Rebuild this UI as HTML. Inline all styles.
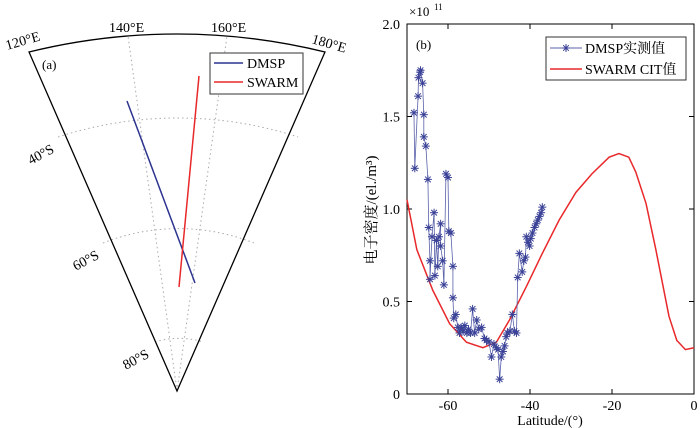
<!DOCTYPE html>
<html><head><meta charset="utf-8"><style>
body{margin:0;background:#fff;}
svg{display:block;font-family:"Liberation Serif","Noto Serif CJK SC",serif;}
</style></head><body>
<svg width="700" height="428" viewBox="0 0 700 428">
<g id="map"></g>
<g id="chart"></g>
</svg>
<script>
const NS="http://www.w3.org/2000/svg";
function mk(parent,tag,attrs,text){const e=document.createElementNS(NS,tag);for(const k in attrs)e.setAttribute(k,attrs[k]);if(text!==undefined)e.textContent=text;parent.appendChild(e);return e;}

// ---------- Map panel ----------
const map=document.getElementById('map');
const apexX=177,apexY=391;
// latitude arcs: [leftX,leftY,rightX,rightY,radius]
const latArcs=[[58,137,298,137,388],[103,243,254,243,205],[155,342,203,342,80]];
const latLabels=['40°S','60°S','80°S'];
const latLabelPos=[[55,152],[100,258],[150,357]];
latArcs.forEach((a,i)=>{
  const g=mk(map,'path',{d:`M${a[0]},${a[1]} A${a[4]},${a[4]} 0 0 1 ${a[2]},${a[3]}`,fill:'none',stroke:'#aaa','stroke-dasharray':'1.5,3','stroke-width':1});
  
  
  const p=latLabelPos[i];
  const t=mk(map,'text',{x:p[0],y:p[1],'font-size':14,'text-anchor':'end',transform:`rotate(-28 ${p[0]} ${p[1]})`},latLabels[i]);
  
  
});
[[128,36],[227,36]].forEach(p=>{
  const l=mk(map,'line',{x1:apexX,y1:apexY,x2:p[0],y2:p[1],stroke:'#aaa','stroke-dasharray':'1.5,3'});
  
  
});
const frame=mk(map,'path',{d:`M${apexX},${apexY} L29,52 A617,617 0 0 1 325,52 Z`,fill:'none',stroke:'#000','stroke-width':1.3});


[['120°E',7,50,-16],['140°E',109,32,0],['160°E',211,32,0],['180°E',311,43,16]].forEach(([s,x,y,r])=>{
  const t=mk(map,'text',{x:x,y:y,'font-size':14,transform:`rotate(${r} ${x} ${y})`},s);
  
  
});
mk(map,'text',{x:42,y:69,'font-size':13,},'(a)');
mk(map,'line',{x1:127,y1:101,x2:195,y2:283,stroke:'#2c3490','stroke-width':1.5,});
mk(map,'line',{x1:199,y1:76,x2:179,y2:287,stroke:'#e8282a','stroke-width':1.5,});
const lg=mk(map,'g',{});
mk(lg,'rect',{x:210,y:53,width:93,height:41,fill:'#fff',stroke:'#333'});
mk(lg,'line',{x1:214,y1:63,x2:243,y2:63,stroke:'#2c3490','stroke-width':1.5});
mk(lg,'text',{x:247,y:68,'font-size':14},'DMSP');
mk(lg,'line',{x1:214,y1:82,x2:243,y2:82,stroke:'#e8282a','stroke-width':1.5});
mk(lg,'text',{x:247,y:87,'font-size':14},'SWARM');

// ---------- Chart panel ----------
const dmspLat=[-68.3,-68.1,-67.3,-67.2,-66.8,-66.7,-66.2,-65.9,-65.9,-65.4,-64.9,-64.7,-64.4,-64.4,-63.9,-63.4,-63.2,-62.8,-62.5,-62.2,-61.8,-61.8,-61.3,-61.0,-60.5,-60.0,-59.8,-59.3,-58.8,-58.8,-58.6,-58.1,-57.6,-57.2,-56.8,-56.3,-55.9,-55.4,-55.0,-54.5,-54.0,-53.5,-53.0,-52.5,-51.8,-51.1,-50.6,-50.0,-49.4,-48.8,-48.2,-47.8,-47.4,-47.0,-46.6,-46.2,-45.8,-45.5,-44.9,-44.3,-43.8,-43.3,-43.0,-42.6,-41.9,-41.5,-41.1,-40.9,-40.5,-40.1,-39.8,-39.4,-38.9,-38.5,-38.1,-37.7,-37.3,-37.0];
const dmspVal=[1.52,1.22,1.61,1.71,1.74,1.75,1.68,1.51,1.39,1.34,1.16,0.90,0.72,0.62,0.85,0.98,0.64,0.83,0.69,0.85,0.92,0.80,0.72,0.59,1.19,1.17,0.88,0.87,0.69,0.52,0.41,0.43,0.36,0.33,0.36,0.34,0.37,0.33,0.35,0.33,0.46,0.33,0.40,0.35,0.36,0.30,0.29,0.28,0.20,0.27,0.25,0.24,0.08,0.20,0.23,0.26,0.31,0.33,0.34,0.43,0.34,0.33,0.63,0.76,0.66,0.72,0.74,0.85,0.82,0.80,0.84,0.87,0.90,0.92,0.94,0.96,0.98,1.01];
const citLat=[-70,-67.6,-63.7,-59.6,-55.5,-51.5,-48.2,-45,-40.9,-37,-32.9,-28.8,-24.9,-20.7,-18.3,-15.9,-14.2,-11.7,-9.3,-6.1,-4.2,-2.1,0];
const citVal=[1.05,0.78,0.56,0.38,0.28,0.25,0.28,0.40,0.58,0.76,0.94,1.09,1.19,1.28,1.30,1.28,1.20,1.03,0.78,0.42,0.29,0.24,0.25];
const xTicks=[-60,-40,-20,0];
const yTicks=[0,0.5,1.0,1.5,2.0];
const yTickLabels=['0','0.5','1.0','1.5','2.0'];

const ch=document.getElementById('chart');
const L=407,Rr=694,T=24,B=394;
const xs=v=>L+(v+70)/70*(Rr-L);
const ys=v=>B-v/2*(B-T);
mk(ch,'rect',{x:L,y:T,width:Rr-L,height:B-T,fill:'none',stroke:'#000','stroke-width':1,});
xTicks.forEach(v=>{
  const x=xs(v);
  mk(ch,'line',{x1:x,y1:B,x2:x,y2:B-5,stroke:'#000'});
  mk(ch,'line',{x1:x,y1:T,x2:x,y2:T+5,stroke:'#000'});
  const t=mk(ch,'text',{x:x,y:B+16,'font-size':14,'text-anchor':'middle'},String(v));
  
  
});
yTicks.forEach((v,i)=>{
  const y=ys(v);
  mk(ch,'line',{x1:L,y1:y,x2:L+5,y2:y,stroke:'#000'});
  mk(ch,'line',{x1:Rr,y1:y,x2:Rr-5,y2:y,stroke:'#000'});
  const t=mk(ch,'text',{x:L-7,y:y+5,'font-size':14,'text-anchor':'end'},yTickLabels[i]);
  
  
});
mk(ch,'text',{x:409,y:16,'font-size':13,},'×10');
mk(ch,'text',{x:434,y:10,'font-size':9,},'11');
mk(ch,'text',{x:550,y:425,'font-size':14,'text-anchor':'middle',},'Latitude/(°)');
mk(ch,'text',{x:0,y:0,'font-size':15,'text-anchor':'middle',transform:'translate(376,210) rotate(-90)',},'电子密度/(el./m³)');
mk(ch,'text',{x:416,y:49,'font-size':13,},'(b)');

const cp=mk(ch,'polyline',{points:citLat.map((v,i)=>xs(v)+','+ys(citVal[i])).join(' '),fill:'none',stroke:'#e8282a','stroke-width':1.5});


const dp=mk(ch,'polyline',{points:dmspLat.map((v,i)=>xs(v)+','+ys(dmspVal[i])).join(' '),fill:'none',stroke:'#5a62aa','stroke-width':0.8});


function star(g,x,y,s,c){
  for(let a=0;a<180;a+=45){const r=a*Math.PI/180;mk(g,'line',{x1:x-s*Math.cos(r),y1:y-s*Math.sin(r),x2:x+s*Math.cos(r),y2:y+s*Math.sin(r),stroke:c,'stroke-width':1});}
}
dmspLat.forEach((v,i)=>{
  const g=mk(ch,'g',{});
  
  
  star(g,xs(v),ys(dmspVal[i]),4,'#3a4196');
});
const lg2=mk(ch,'g',{});
mk(lg2,'rect',{x:546,y:37,width:140,height:43,fill:'#fff',stroke:'#333'});
mk(lg2,'line',{x1:550,y1:48,x2:582,y2:48,stroke:'#5a62aa','stroke-width':1});
star(lg2,566,48,4,'#3a4196');
mk(lg2,'text',{x:585,y:53,'font-size':14},'DMSP实测值');
mk(lg2,'line',{x1:550,y1:69,x2:582,y2:69,stroke:'#e8282a','stroke-width':1.5});
mk(lg2,'text',{x:585,y:74,'font-size':14},'SWARM CIT值');
</script>
</body></html>
